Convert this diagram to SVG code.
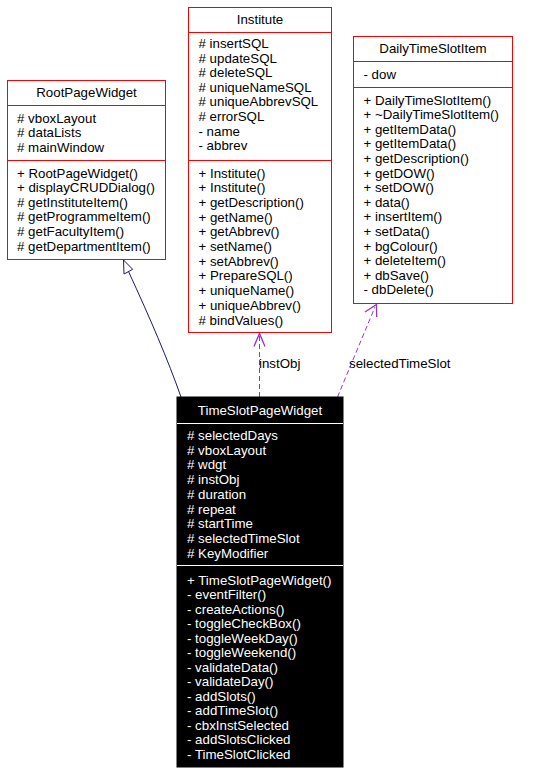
<svg xmlns="http://www.w3.org/2000/svg" width="541" height="773" viewBox="0 0 541 773">
<style>
text{font-family:"Liberation Sans",Arial,Helvetica,sans-serif;font-size:13.3px;fill:#000}
.box{fill:#fff;stroke:#f00;stroke-width:1}
.div{stroke:#f00;stroke-width:1}
.dark{fill:#000;stroke:#000}
.wdiv{stroke:#fff;stroke-width:1}
.w{fill:#fff}
.t{text-anchor:middle}
.inh{fill:none;stroke:#191970;stroke-width:1}
.dep{fill:none;stroke:#9a32cd;stroke-width:1;stroke-dasharray:5,3}
.depa{fill:none;stroke:#9a32cd;stroke-width:1.3}
</style>
<rect width="541" height="773" fill="#fff"/>
<g id="connectors">
<path class="inh" d="M181,397 C168,360 150,318 128.5,271.5"/>
<polygon points="123.5,260 124,274 132.7,269.3" fill="#fff" stroke="#191970"/>
<path class="dep" d="M259.5,397 L259.5,336"/>
<path class="depa" d="M254,346.5 L259.5,333.5 L265,346.5"/>
<text x="259" y="368">instObj</text>
<path class="dep" d="M337.5,397 L375,307"/>
<path class="depa" d="M365,312 L376.5,304.5 L376.7,317"/>
<text x="349" y="368">selectedTimeSlot</text>
</g>
<g id="RootPageWidget">
<rect class="box" x="7.5" y="80.5" width="158" height="179"/>
<line class="div" x1="7.5" y1="105.5" x2="165.5" y2="105.5"/>
<line class="div" x1="7.5" y1="160.5" x2="165.5" y2="160.5"/>
<text class="t" x="86.5" y="97">RootPageWidget</text>
<text x="17" y="122.5"># vboxLayout</text>
<text x="17" y="137"># dataLists</text>
<text x="17" y="151.5"># mainWindow</text>
<text x="17" y="177.5">+ RootPageWidget()</text>
<text x="17" y="192.1">+ displayCRUDDialog()</text>
<text x="17" y="206.7"># getInstituteItem()</text>
<text x="17" y="221.3"># getProgrammeItem()</text>
<text x="17" y="235.9"># getFacultyItem()</text>
<text x="17" y="250.5"># getDepartmentItem()</text>
</g>
<g id="Institute">
<rect class="box" x="188.5" y="7.5" width="143" height="325"/>
<line class="div" x1="188.5" y1="32.5" x2="331.5" y2="32.5"/>
<line class="div" x1="188.5" y1="160.5" x2="331.5" y2="160.5"/>
<text class="t" x="260" y="24">Institute</text>
<text x="198.5" y="48"># insertSQL</text>
<text x="198.5" y="62.6"># updateSQL</text>
<text x="198.5" y="77.2"># deleteSQL</text>
<text x="198.5" y="91.8"># uniqueNameSQL</text>
<text x="198.5" y="106.4"># uniqueAbbrevSQL</text>
<text x="198.5" y="121"># errorSQL</text>
<text x="198.5" y="135.6">- name</text>
<text x="198.5" y="150.2">- abbrev</text>
<text x="198.5" y="177.5">+ Institute()</text>
<text x="198.5" y="192.2">+ Institute()</text>
<text x="198.5" y="206.9">+ getDescription()</text>
<text x="198.5" y="221.6">+ getName()</text>
<text x="198.5" y="236.3">+ getAbbrev()</text>
<text x="198.5" y="251">+ setName()</text>
<text x="198.5" y="265.7">+ setAbbrev()</text>
<text x="198.5" y="280.4">+ PrepareSQL()</text>
<text x="198.5" y="295.1">+ uniqueName()</text>
<text x="198.5" y="309.8">+ uniqueAbbrev()</text>
<text x="198.5" y="324.5"># bindValues()</text>
</g>
<g id="DailyTimeSlotItem">
<rect class="box" x="353.5" y="36.5" width="159" height="267"/>
<line class="div" x1="353.5" y1="61.5" x2="512.5" y2="61.5"/>
<line class="div" x1="353.5" y1="87.5" x2="512.5" y2="87.5"/>
<text class="t" x="433" y="53">DailyTimeSlotItem</text>
<text x="363.5" y="78.5">- dow</text>
<text x="363.5" y="104.5">+ DailyTimeSlotItem()</text>
<text x="363.5" y="119.1">+ ~DailyTimeSlotItem()</text>
<text x="363.5" y="133.7">+ getItemData()</text>
<text x="363.5" y="148.3">+ getItemData()</text>
<text x="363.5" y="162.9">+ getDescription()</text>
<text x="363.5" y="177.5">+ getDOW()</text>
<text x="363.5" y="192.1">+ setDOW()</text>
<text x="363.5" y="206.7">+ data()</text>
<text x="363.5" y="221.3">+ insertItem()</text>
<text x="363.5" y="235.9">+ setData()</text>
<text x="363.5" y="250.5">+ bgColour()</text>
<text x="363.5" y="265.1">+ deleteItem()</text>
<text x="363.5" y="279.7">+ dbSave()</text>
<text x="363.5" y="294.3">- dbDelete()</text>
</g>
<g id="TimeSlotPageWidget">
<rect class="dark" x="177" y="397" width="166" height="370"/>
<line class="wdiv" x1="177" y1="423.5" x2="343" y2="423.5"/>
<line class="wdiv" x1="177" y1="565.5" x2="343" y2="565.5"/>
<text class="t w" x="260" y="415">TimeSlotPageWidget</text>
<text class="w" x="187" y="440"># selectedDays</text>
<text class="w" x="187" y="454.7"># vboxLayout</text>
<text class="w" x="187" y="469.4"># wdgt</text>
<text class="w" x="187" y="484.1"># instObj</text>
<text class="w" x="187" y="498.8"># duration</text>
<text class="w" x="187" y="513.5"># repeat</text>
<text class="w" x="187" y="528.2"># startTime</text>
<text class="w" x="187" y="542.9"># selectedTimeSlot</text>
<text class="w" x="187" y="557.6"># KeyModifier</text>
<text class="w" x="187" y="584.5">+ TimeSlotPageWidget()</text>
<text class="w" x="187" y="599">- eventFilter()</text>
<text class="w" x="187" y="613.5">- createActions()</text>
<text class="w" x="187" y="628">- toggleCheckBox()</text>
<text class="w" x="187" y="642.6">- toggleWeekDay()</text>
<text class="w" x="187" y="657.1">- toggleWeekend()</text>
<text class="w" x="187" y="671.6">- validateData()</text>
<text class="w" x="187" y="686.1">- validateDay()</text>
<text class="w" x="187" y="700.7">- addSlots()</text>
<text class="w" x="187" y="715.2">- addTimeSlot()</text>
<text class="w" x="187" y="729.7">- cbxInstSelected</text>
<text class="w" x="187" y="744.2">- addSlotsClicked</text>
<text class="w" x="187" y="758.8">- TimeSlotClicked</text>
</g>
</svg>
